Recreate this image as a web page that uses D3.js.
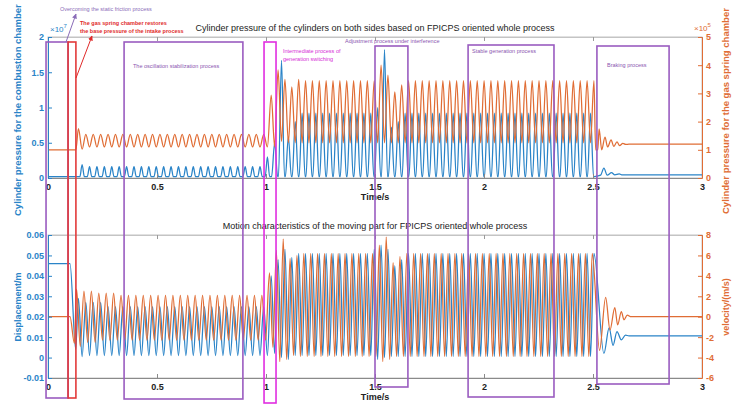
<!DOCTYPE html>
<html>
<head>
<meta charset="utf-8">
<script src="https://cdn.jsdelivr.net/npm/d3@7"></script>
<style>
  body { margin: 0; background: #fff; }
  svg { display: block; font-family: "Liberation Sans", Arial, sans-serif; }
</style>
</head>
<body>
<svg id="chart" width="737" height="404"></svg>
<script>
// ---------- values ----------
const timeTicks = [0, 0.5, 1, 1.5, 2, 2.5, 3];
const combTicks = [0, 0.5, 1, 1.5, 2];
const springTicks = [0, 1, 2, 3, 4, 5];
const dispTicks = [-0.01, 0, 0.01, 0.02, 0.03, 0.04, 0.05, 0.06];
const velTicks = [-6, -4, -2, 0, 2, 4, 6, 8];

// oscillation runs (stabilisation, generation): first velocity peak [s], period [s]
const runStart = [0.131, 1.016];
const runPeriod = [0.034, 0.0315];

// per-cycle extremes, run-length coded as [value, cycles]
// velocity (m/s)
const velLead = [[0, 0], [0.101, 0], [0.121, -2.6]];
const velPeaks = [
  [[2.7, 1], [2.5, 2], [2.3, 3], [2.1, 20]],
  [[4.3, 1], [6.5, 1], [7.6, 1], [5.7, 1], [6.0, 1], [6.2, 11], [7.0, 1], [7.8, 1], [5.3, 1], [5.9, 1], [6.2, 28]]
];
const velTroughs = [
  [[-2.9, 1], [-2.5, 2], [-2.3, 23]],
  [[-3.0, 1], [-4.4, 1], [-4.2, 1], [-3.8, 1], [-3.9, 12], [-4.4, 1], [-4.2, 1], [-3.9, 29]]
];
const velTail = [[2.53, -3.3], [2.558, 1.9], [2.578, -1.3], [2.6, 0.9], [2.613, -0.8],
  [2.63, 0.5], [2.642, -0.3], [2.657, 0.15], [2.675, 0], [3.0, 0]];

// displacement (m)
const dispLead = [[0, 0.046], [0.101, 0.046], [0.127, 0.004]];
const dispPeaks = [
  [[0.029, 1], [0.027, 3], [0.025, 22]],
  [[0.040, 1], [0.048, 1], [0.053, 1], [0.049, 1], [0.051, 11], [0.053, 1], [0.055, 1], [0.053, 1], [0.045, 1], [0.048, 1], [0.051, 28]]
];
const dispTroughs = [
  [[0.0005, 1], [0.001, 25]],
  [[0.002, 1], [0.0, 1], [-0.001, 1], [0.001, 12], [-0.001, 1], [0.0, 1], [0.0005, 30]]
];
const dispTail = [[2.55, 0.002], [2.574, 0.0145], [2.592, 0.006], [2.61, 0.0127],
  [2.63, 0.0087], [2.649, 0.011], [2.665, 0.0106], [3.0, 0.0106]];

// gas spring chamber pressure (x10^5)
const springLead = [[0, 1.0], [0.128, 1.0]];
const springPeaks = [
  [[1.75, 1], [1.55, 25]],
  [[2.94, 1], [3.83, 1], [3.5, 1], [3.23, 1], [3.5, 1], [3.45, 11], [4.0, 1], [3.65, 1], [3.05, 1], [3.3, 1], [3.45, 28]]
];
const springTroughs = [
  [[1.02, 1], [1.1, 25]],
  [[1.1, 1], [1.3, 1], [1.25, 45]]
];
const springTail = [[2.512, 1.0], [2.522, 1.0], [2.528, 1.74], [2.54, 1.0], [2.555, 1.45],
  [2.567, 1.1], [2.583, 1.35], [2.595, 1.12], [2.61, 1.28], [2.622, 1.15], [2.637, 1.23],
  [2.65, 1.19], [2.665, 1.2], [3.0, 1.2]];

// combustion chamber pressure pulses (x10^7)
const combLead = [[0, 0.02], [0.128, 0.02]];
const combBase = [0.02, 0.02];
const combPeaks = [
  [[0.19, 1], [0.16, 24], [0.3, 1]],
  [[0.5, 1], [1.67, 1], [0.58, 1], [0.8, 1], [0.92, 11], [1.0, 1], [1.82, 1], [0.72, 1], [0.8, 1], [0.92, 28]]
];
const combTail = [[2.505, 0.02], [2.535, 0.04], [2.55, 0.14], [2.565, 0.04], [2.585, 0.075],
  [2.6, 0.045], [2.62, 0.057], [2.635, 0.043], [3.0, 0.043]];

// process annotations (time extent of each box)
const procLabels = ["", "", "The oscillation stabilization process", "", "Adjustment process under interference",
  "Stable generation process", "Braking process"];
const procStart = [-0.009, 0.092, 0.349, 0.991, 1.5, 1.927, 2.518];
const procEnd = [0.092, 0.128, 0.894, 1.046, 1.651, 2.321, 2.849];

// ---------- helpers ----------
function rle(list) {
  const out = [];
  list.forEach(([v, n]) => { for (let i = 0; i < n; i++) out.push(v); });
  return out;
}

// extremes of a sine-like signal; phase is the offset from the velocity peak in periods
function oscillation(lead, peaks, troughs, phase, tail) {
  const pts = lead.slice();
  peaks.forEach((runPk, r) => {
    const pk = rle(runPk), tr = rle(troughs[r]);
    const P = runPeriod[r];
    const n = Math.max(pk.length, tr.length);
    for (let i = 0; i < n; i++) {
      const t = runStart[r] + (i + phase) * P;
      if (i < pk.length) pts.push([t, pk[i]]);
      if (i < tr.length) pts.push([t + P / 2, tr[i]]);
    }
  });
  return pts.concat(tail);
}

// pressure pulses on a flat base; halfWidth is a fraction of the period
const pulseHalfWidth = [0.3, 0.44];
function pulses(lead, base, peaks, phase, tail) {
  const pts = lead.slice();
  peaks.forEach((runPk, r) => {
    const P = runPeriod[r], w = pulseHalfWidth[r] * P;
    rle(runPk).forEach((v, i) => {
      const t = runStart[r] + (i + phase) * P;
      pts.push([t - w, base[r]], [t, v], [t + w, base[r]]);
    });
  });
  return pts.concat(tail);
}

// ---------- layout ----------
const BLUE = "#2a84c8";
const ORANGE = "#e06d35";
const PURPLE = "#9a5cc0";
const svg = d3.select("#chart");

const x = d3.scaleLinear().domain([0, 3]).range([48, 702]);
const yComb = d3.scaleLinear().domain([0, 2]).range([178, 37]);
const ySpring = d3.scaleLinear().domain([0, 5]).range([178, 37]);
const yDisp = d3.scaleLinear().domain([-0.01, 0.06]).range([378, 235]);
const yVel = d3.scaleLinear().domain([-6, 8]).range([378, 235]);

function drawPanel(cfg) {
  const top = cfg.yL.range()[1], bottom = cfg.yL.range()[0];
  const g = svg.append("g");

  g.append("rect")
    .attr("x", x(0)).attr("y", top)
    .attr("width", x(3) - x(0)).attr("height", bottom - top)
    .attr("fill", "none").attr("stroke", "#c4c4c4").attr("stroke-width", 1);

  svg.append("clipPath").attr("id", "clip-" + cfg.id)
    .append("rect")
    .attr("x", x(0)).attr("y", top)
    .attr("width", x(3) - x(0)).attr("height", bottom - top);

  const plot = g.append("g").attr("clip-path", `url(#clip-${cfg.id})`);
  cfg.series.forEach(s => {
    plot.append("path")
      .datum(s.data)
      .attr("fill", "none")
      .attr("stroke", s.color)
      .attr("stroke-width", 1.25)
      .attr("d", d3.line()
        .x(d => x(d[0]))
        .y(d => s.y(d[1]))
        .curve(d3.curveMonotoneX));
  });

  // x axis (ticks inside, on bottom and top)
  const ax = g.append("g")
    .attr("transform", `translate(0,${bottom})`)
    .call(d3.axisBottom(x).tickValues(timeTicks).tickFormat(d3.format(""))
      .tickSize(-4).tickSizeOuter(0).tickPadding(6));
  ax.select(".domain").attr("stroke", "#8a8a8a");
  ax.selectAll(".tick line").attr("stroke", "#8a8a8a");
  ax.selectAll("text").attr("font-size", 9).attr("font-weight", "bold").attr("fill", "#222");

  const axTop = g.append("g")
    .attr("transform", `translate(0,${top})`)
    .call(d3.axisTop(x).tickValues(timeTicks).tickFormat("").tickSize(-4).tickSizeOuter(0));
  axTop.select(".domain").attr("stroke", "#c4c4c4");
  axTop.selectAll(".tick line").attr("stroke", "#9a9a9a");

  const axL = g.append("g")
    .attr("transform", `translate(${x(0)},0)`)
    .call(d3.axisLeft(cfg.yL).tickValues(cfg.ticksL).tickFormat(cfg.fmtL)
      .tickSize(-4).tickSizeOuter(0).tickPadding(4));
  axL.select(".domain").attr("stroke", BLUE);
  axL.selectAll(".tick line").attr("stroke", BLUE);
  axL.selectAll("text").attr("font-size", 9).attr("font-weight", "bold").attr("fill", BLUE);

  const axR = g.append("g")
    .attr("transform", `translate(${x(3)},0)`)
    .call(d3.axisRight(cfg.yR).tickValues(cfg.ticksR).tickFormat(cfg.fmtR)
      .tickSize(-4).tickSizeOuter(0).tickPadding(4));
  axR.select(".domain").attr("stroke", ORANGE);
  axR.selectAll(".tick line").attr("stroke", ORANGE);
  axR.selectAll("text").attr("font-size", 9).attr("font-weight", "bold").attr("fill", ORANGE);

  // title and x label
  g.append("text")
    .attr("x", 375).attr("y", top - 6)
    .attr("text-anchor", "middle").attr("font-size", 9).attr("fill", "#222")
    .text(cfg.title);
  g.append("text")
    .attr("x", 375).attr("y", bottom + 22)
    .attr("text-anchor", "middle").attr("font-size", 9).attr("font-weight", "bold").attr("fill", "#222")
    .text("Time/s");

  // y labels
  g.append("text")
    .attr("transform", `translate(21,${cfg.labelLY}) rotate(-90)`)
    .attr("text-anchor", cfg.labelAnchor).attr("font-size", cfg.labelSize).attr("font-weight", "bold").attr("fill", BLUE)
    .text(cfg.labelL);
  g.append("text")
    .attr("transform", `translate(729,${cfg.labelRY}) rotate(-90)`)
    .attr("text-anchor", cfg.labelAnchor).attr("font-size", cfg.labelSize).attr("font-weight", "bold").attr("fill", ORANGE)
    .text(cfg.labelR);
}

const fmtPlain = d3.format("");
const fmtDisp = d => (d === 0 ? "0" : d3.format(".2f")(d).replace("−", "-"));
const fmtVel = d => String(d);

drawPanel({
  id: "top",
  yL: yComb, yR: ySpring,
  ticksL: combTicks, ticksR: springTicks,
  fmtL: fmtPlain, fmtR: fmtPlain,
  title: "Cylinder pressure of the cylinders on both sides based on FPICPS oriented whole process",
  labelL: "Cylinder pressure for the combustion chamber",
  labelR: "Cylinder pressure for the gas spring chamber",
  labelLY: 216, labelRY: 214, labelAnchor: "start", labelSize: 9.5,
  series: [
    { y: yComb, color: BLUE, data: pulses(combLead, combBase, combPeaks, 0.75, combTail) },
    { y: ySpring, color: ORANGE, data: oscillation(springLead, springPeaks, springTroughs, 0.25, springTail) }
  ]
});

drawPanel({
  id: "bottom",
  yL: yDisp, yR: yVel,
  ticksL: dispTicks, ticksR: velTicks,
  fmtL: fmtDisp, fmtR: fmtVel,
  title: "Motion characteristics of the moving part for FPICPS oriented whole process",
  labelL: "Displacement/m",
  labelR: "velocity/(m/s)",
  labelLY: 307, labelRY: 307, labelAnchor: "middle", labelSize: 9,
  series: [
    { y: yDisp, color: BLUE, data: oscillation(dispLead, dispPeaks, dispTroughs, 0.25, dispTail) },
    { y: yVel, color: ORANGE, data: oscillation(velLead, velPeaks, velTroughs, 0, velTail) }
  ]
});

// exponent labels
const expL = svg.append("text").attr("x", 50).attr("y", 32).attr("font-size", 8).attr("fill", BLUE);
expL.append("tspan").text("×10");
expL.append("tspan").attr("dy", -4).attr("font-size", 6).text("7");
const expR = svg.append("text").attr("x", 694).attr("y", 31).attr("font-size", 8).attr("fill", ORANGE);
expR.append("tspan").text("×10");
expR.append("tspan").attr("dy", -4).attr("font-size", 6).text("5");

// ---------- process boxes ----------
const boxTop = [42, 42, 42, 42, 46, 45, 46];
const boxBottom = [398, 398, 399, 403, 387, 397, 384];
const boxColor = [PURPLE, "#e23a3a", PURPLE, "#e02ee0", PURPLE, PURPLE, PURPLE];
const ann = svg.append("g");
procStart.forEach((t0, i) => {
  ann.append("rect")
    .attr("x", x(t0)).attr("y", boxTop[i])
    .attr("width", x(procEnd[i]) - x(t0)).attr("height", boxBottom[i] - boxTop[i])
    .attr("fill", "none").attr("stroke", boxColor[i]).attr("stroke-width", 1.6);
});
const labelPos = [null, null, [133, 68], null, [345, 43], [472, 53], [607, 67]];
procLabels.forEach((txt, i) => {
  if (!txt) return;
  ann.append("text")
    .attr("x", labelPos[i][0]).attr("y", labelPos[i][1])
    .attr("font-size", 5.5).attr("fill", "#8a55b0")
    .text(txt);
});
ann.append("text").attr("x", 283).attr("y", 53).attr("font-size", 5.5).attr("fill", "#d62bd6")
  .text("Intermediate process of");
ann.append("text").attr("x", 283).attr("y", 61).attr("font-size", 5.5).attr("fill", "#d62bd6")
  .text("generation switching");
ann.append("text").attr("x", 60).attr("y", 11).attr("font-size", 5.5).attr("fill", "#8a6cb8")
  .text("Overcoming the static friction process");
ann.append("text").attr("x", 80).attr("y", 25).attr("font-size", 5.5).attr("font-weight", "bold").attr("fill", "#e02a2a")
  .text("The gas spring chamber restores");
ann.append("text").attr("x", 80).attr("y", 33).attr("font-size", 5.5).attr("font-weight", "bold").attr("fill", "#e02a2a")
  .text("the base pressure of the intake process");

// arrows
const defs = svg.append("defs");
[["arrP", "#8a6cb8"], ["arrR", "#e02a2a"]].forEach(([id, c]) => {
  defs.append("marker").attr("id", id).attr("viewBox", "0 0 10 10")
    .attr("refX", 9).attr("refY", 5).attr("markerWidth", 5).attr("markerHeight", 5)
    .attr("orient", "auto")
    .append("path").attr("d", "M0,0L10,5L0,10z").attr("fill", c);
});
ann.append("line").attr("x1", 66).attr("y1", 42).attr("x2", 76).attr("y2", 14)
  .attr("stroke", "#8a6cb8").attr("stroke-width", 1).attr("marker-end", "url(#arrP)");
ann.append("line").attr("x1", 76).attr("y1", 78).attr("x2", 92).attr("y2", 36)
  .attr("stroke", "#e02a2a").attr("stroke-width", 1).attr("marker-end", "url(#arrR)");
</script>
</body>
</html>
